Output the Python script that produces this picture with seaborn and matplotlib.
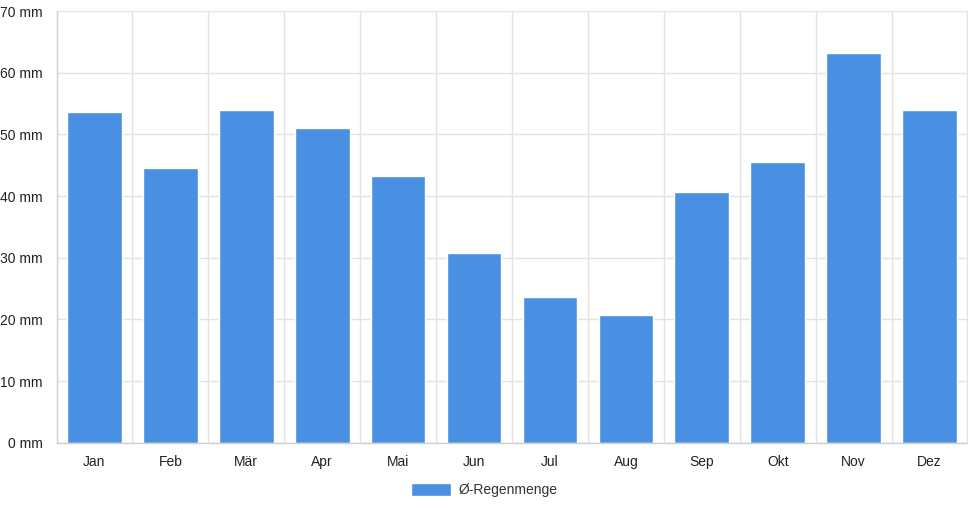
import matplotlib
matplotlib.use("Agg")
import matplotlib.pyplot as plt
import seaborn as sns
import numpy as np
import pandas as pd

monate = ["Jan", "Feb", "Mär", "Apr", "Mai", "Jun", "Jul", "Aug", "Sep", "Okt", "Nov", "Dez"]
regen_mm = [53.7, 44.5, 53.9, 51.0, 43.3, 30.7, 23.6, 20.7, 40.7, 45.5, 63.2, 54.0]
serie = "Ø-Regenmenge"
y_ticks = [0, 10, 20, 30, 40, 50, 60, 70]

sns.set_style("white")
plt.rcParams["font.family"] = ["Liberation Sans", "DejaVu Sans"]

df = pd.DataFrame({"Monat": monate, "Regen": regen_mm})

fig = plt.figure(figsize=(9.68, 5.08), dpi=100)
ax = fig.add_axes([56.5 / 968, (508 - 442.7) / 508, (967.5 - 56.5) / 968, (442.7 - 11) / 508])

sns.barplot(data=df, x="Monat", y="Regen", color="#4a90e2", saturation=1,
            width=0.72, label=serie, ax=ax)

grid_c = "#e3e3e3"
fs = 10
ax.set_xlim(-0.5, len(monate) - 0.5)
ax.set_ylim(0, 70)
ax.set_yticks(y_ticks)
ax.set_yticklabels([f"{v} mm" for v in y_ticks])
ax.set_xticks(np.arange(-0.5, len(monate)), minor=True)
ax.set_xlabel("")
ax.set_ylabel("")

ax.grid(True, axis="y", color=grid_c, linewidth=1)
ax.grid(True, axis="x", which="minor", color=grid_c, linewidth=1)
ax.grid(False, axis="x", which="major")
ax.set_axisbelow(True)

ax.tick_params(axis="x", which="major", length=0, pad=9, labelsize=fs, labelcolor="#222222")
ax.tick_params(axis="x", which="minor", length=8, color=grid_c, width=1)
ax.tick_params(axis="y", length=8, color=grid_c, width=1, pad=2, labelsize=fs, labelcolor="#222222")

for s in ["top", "right"]:
    ax.spines[s].set_visible(False)
for s in ["left", "bottom"]:
    ax.spines[s].set_color("#cfcfcf")
    ax.spines[s].set_linewidth(1)

leg = ax.legend(loc="center", bbox_to_anchor=(484 / 968, 1 - 490 / 508),
                bbox_transform=fig.transFigure, frameon=False, fontsize=fs,
                handlelength=2.9, handleheight=1.15, handletextpad=0.5)
for t in leg.get_texts():
    t.set_color("#333333")

fig.savefig("out.png", dpi=100)
